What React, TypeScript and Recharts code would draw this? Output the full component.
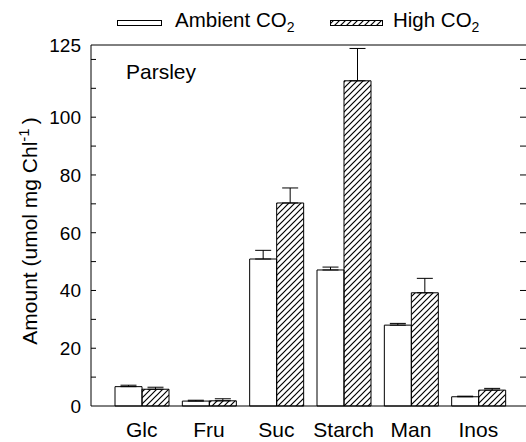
import { BarChart, Bar, XAxis, YAxis, ErrorBar, ReferenceLine } from "recharts";

const FONT = "'Liberation Sans', Arial, Helvetica, sans-serif";

// values (umol mg Chl-1)
const categories = ["Glc", "Fru", "Suc", "Starch", "Man", "Inos"];
const ambient = [6.7, 1.7, 50.9, 47.1, 28.0, 3.2];
const ambientErr = [0.5, 0.3, 3.0, 1.0, 0.6, 0.2];
const high = [5.8, 1.8, 70.3, 112.6, 39.2, 5.5];
const highErr = [0.7, 0.7, 5.2, 11.2, 5.0, 0.6];

const yTicks = [0, 10, 20, 30, 40, 50, 60, 70, 80, 90, 100, 110, 120, 125];
const labelTicks = [0, 20, 40, 60, 80, 100, 125];

const PLOT_RIGHT = 526;

const data = categories.map((name, i) => ({
  name,
  ambient: ambient[i],
  ambientErr: [0, ambientErr[i]],
  high: high[i],
  highErr: [0, highErr[i]],
}));

// inward minor ticks on both sides of the frame, labels on the left only
function YTick(props: any) {
  const { x, y, payload } = props;
  const v = payload.value;
  const minor = v % 10 === 0 && v > 0;
  return (
    <g>
      {minor && <line x1={x} x2={x + 5} y1={y} y2={y} stroke="#000" strokeWidth={1} />}
      {minor && (
        <line
          x1={PLOT_RIGHT - 6}
          x2={PLOT_RIGHT}
          y1={y}
          y2={y}
          stroke="#000"
          strokeWidth={1}
        />
      )}
      {labelTicks.includes(v) && (
        <text
          x={x - 10}
          y={y}
          dy="0.36em"
          textAnchor="end"
          fontSize={19}
          fontFamily={FONT}
          fill="#000"
        >
          {v}
        </text>
      )}
    </g>
  );
}

export default function App() {
  return (
    <div
      style={{
        position: "absolute",
        left: 0,
        top: 0,
        width: 526,
        height: 442,
        overflow: "hidden",
        background: "#fff",
      }}
    >
      <svg width={0} height={0} style={{ position: "absolute" }}>
        <defs>
          <pattern id="hatch" patternUnits="userSpaceOnUse" width={6} height={6}>
            <path
              d="M0,6 L6,0 M-1.5,1.5 L1.5,-1.5 M4.5,7.5 L7.5,4.5"
              stroke="#000"
              strokeWidth={1.2}
            />
          </pattern>
        </defs>
      </svg>

      <BarChart
        width={530}
        height={442}
        data={data}
        margin={{ top: 45, right: 4, bottom: 6, left: 0 }}
        barGap={0}
        barSize={27}
      >
        <XAxis
          dataKey="name"
          padding={{ left: 17, right: 14 }}
          tickLine={false}
          tickSize={0}
          tickMargin={16}
          height={30}
          axisLine={{ stroke: "#000" }}
          tick={{ fontSize: 21, fill: "#000", fontFamily: FONT }}
        />
        <YAxis
          domain={[0, 125]}
          ticks={yTicks}
          interval={0}
          width={91}
          tickLine={false}
          tickSize={0}
          tickMargin={0}
          axisLine={{ stroke: "#000" }}
          tick={<YTick />}
        />
        <ReferenceLine y={125} stroke="#000" strokeWidth={1} />
        <Bar
          dataKey="ambient"
          name="Ambient CO2"
          fill="#fff"
          stroke="#000"
          strokeWidth={1}
          isAnimationActive={false}
        >
          <ErrorBar dataKey="ambientErr" width={8} stroke="#000" strokeWidth={1} />
        </Bar>
        <Bar
          dataKey="high"
          name="High CO2"
          fill="url(#hatch)"
          stroke="#000"
          strokeWidth={1}
          isAnimationActive={false}
        >
          <ErrorBar dataKey="highErr" width={8} stroke="#000" strokeWidth={1} />
        </Bar>
      </BarChart>

      <svg
        width={526}
        height={442}
        style={{ position: "absolute", left: 0, top: 0, pointerEvents: "none" }}
        fontFamily={FONT}
      >
        <defs>
          <pattern id="hatchLegend" patternUnits="userSpaceOnUse" width={6} height={6}>
            <path
              d="M0,6 L6,0 M-1.5,1.5 L1.5,-1.5 M4.5,7.5 L7.5,4.5"
              stroke="#000"
              strokeWidth={1.2}
            />
          </pattern>
        </defs>
        {/* legend */}
        <rect x={117.5} y={20.5} width={44} height={5} fill="#fff" stroke="#000" />
        <text x={175} y={27} fontSize={20.5} fill="#000">
          Ambient CO
          <tspan fontSize={14} dy={5}>2</tspan>
        </text>
        <rect x={330.5} y={20.5} width={52} height={5} fill="url(#hatchLegend)" stroke="#000" />
        <text x={393} y={27} fontSize={20.5} fill="#000">
          High CO
          <tspan fontSize={14} dy={5}>2</tspan>
        </text>

        <text x={126} y={79} fontSize={21} fill="#000">
          Parsley
        </text>

        {/* y axis title */}
        <text
          x={37}
          y={231}
          fontSize={21}
          fill="#000"
          textAnchor="middle"
          transform="rotate(-90, 37, 231)"
        >
          Amount (umol mg Chl
          <tspan fontSize={15} dy={-8}>-1</tspan>
          <tspan dy={8} dx={4}>)</tspan>
        </text>
      </svg>
    </div>
  );
}
